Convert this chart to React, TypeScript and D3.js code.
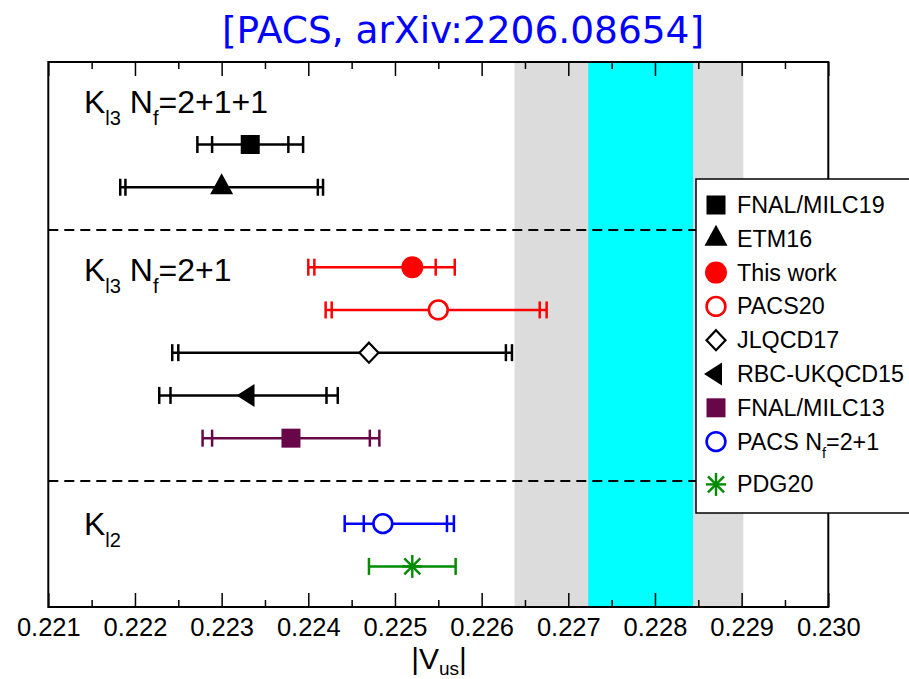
import React, { useRef, useEffect } from "react";
import * as d3 from "d3";

const W = 909;
const H = 679;

// results for |Vus|, listed top to bottom
const labels = ["FNAL/MILC19", "ETM16", "This work", "PACS20", "JLQCD17", "RBC-UKQCD15", "FNAL/MILC13", "PACS Nf=2+1", "PDG20"];
const centers = [0.22333, 0.223, 0.2252, 0.2255, 0.2247, 0.22331, 0.2238, 0.22486, 0.2252];
const statLo = [0.00044, 0.00111, 0.00113, 0.00123, 0.0022, 0.0009, 0.00091, 0.00022, 0];
const statHi = [0.00044, 0.00111, 0.00027, 0.00117, 0.00158, 0.0009, 0.00091, 0.00074, 0];
const totLo = [0.00061, 0.00117, 0.0012, 0.0013, 0.00227, 0.00103, 0.00102, 0.00044, 0.0005];
const totHi = [0.00061, 0.00117, 0.00049, 0.00125, 0.00165, 0.00103, 0.00102, 0.00082, 0.0005];
const rows = [10.87, 9.87, 8, 7, 6, 5, 4, 2, 1];
const symbols = ["square", "triUp", "circle", "circleOpen", "diamond", "triLeft", "square", "circleOpen", "star"];
const colors = ["#000000", "#000000", "#ff0000", "#ff0000", "#000000", "#000000", "#670748", "#0000ff", "#008b00"];

// bands
const grayBand = [0.22638, 0.22902];
const cyanBand = [0.22723, 0.22844];
const dividers = [8.87, 3];

// section labels
const sectionRows = [11.61, 7.68, 1.73];
const sectionSub = ["l3", "l3", "l2"];
const sectionNf = ["2+1+1", "2+1", ""];

const tickLabels = ["0.221", "0.222", "0.223", "0.224", "0.225", "0.226", "0.227", "0.228", "0.229", "0.230"];
const majorTicks = tickLabels.map(Number);
const minorTicks = majorTicks.slice(1).map((t, i) => (t + majorTicks[i]) / 2);

const FONT = "'Liberation Sans', Arial, Helvetica, sans-serif";

const x = d3.scaleLinear().domain([0.221, 0.23]).range([48.3, 828.3]);
const y = d3.scaleLinear().domain([0.05, 12.8]).range([607, 62]);

const Marker = ({ type, cx, cy, color }) => {
  switch (type) {
    case "square":
      return <rect x={cx - 9.5} y={cy - 9.5} width={19} height={19} fill={color} />;
    case "triUp":
      return <path d={`M${cx},${cy - 14}L${cx + 11.5},${cy + 7}L${cx - 11.5},${cy + 7}Z`} fill={color} />;
    case "triLeft":
      return <path d={`M${cx - 12},${cy}L${cx + 6},${cy - 11.5}L${cx + 6},${cy + 11.5}Z`} fill={color} />;
    case "circle":
      return <circle cx={cx} cy={cy} r={11} fill={color} />;
    case "circleOpen":
      return <circle cx={cx} cy={cy} r={9.4} fill="white" stroke={color} strokeWidth={2.6} />;
    case "diamond":
      return (
        <path d={`M${cx},${cy - 10}L${cx + 9.5},${cy}L${cx},${cy + 10}L${cx - 9.5},${cy}Z`}
          fill="white" stroke={color} strokeWidth={2.2} />
      );
    case "star":
      return (
        <g stroke={color} strokeWidth={2.4}>
          <line x1={cx} x2={cx} y1={cy - 11.5} y2={cy + 11.5} />
          <line x1={cx - 10} x2={cx + 10} y1={cy} y2={cy} />
          <line x1={cx - 8} x2={cx + 8} y1={cy - 8} y2={cy + 8} />
          <line x1={cx - 8} x2={cx + 8} y1={cy + 8} y2={cy - 8} />
        </g>
      );
    default:
      return null;
  }
};

const Label = ({ text, size }) => {
  const parts = text.split("Nf");
  if (parts.length < 2) return <>{text}</>;
  const sub = size * 0.62;
  const dy = size * 0.38;
  return (
    <>
      {parts[0]}N
      <tspan dy={dy} fontSize={sub}>f</tspan>
      <tspan dy={-dy}>{parts[1]}</tspan>
    </>
  );
};

const App = () => {
  const axisRef = useRef(null);

  useEffect(() => {
    const g = d3.select(axisRef.current);
    g.selectAll("*").remove();
    const style = (sel) => {
      sel.select(".domain").remove();
      sel.selectAll("line").attr("stroke", "#000").attr("stroke-width", 1.5);
      sel.selectAll("text").attr("font-family", FONT).attr("font-size", 25.5).attr("fill", "#000");
    };
    g.append("g")
      .attr("transform", `translate(0,${y.range()[0]})`)
      .call(d3.axisBottom(x).tickValues(majorTicks).tickSize(-14).tickSizeOuter(0).tickPadding(11)
        .tickFormat((d, i) => tickLabels[i]))
      .call(style);
    g.append("g")
      .attr("transform", `translate(0,${y.range()[0]})`)
      .call(d3.axisBottom(x).tickValues(minorTicks).tickSize(-7).tickSizeOuter(0).tickFormat(() => ""))
      .call(style);
    g.append("g")
      .attr("transform", `translate(0,${y.range()[1]})`)
      .call(d3.axisTop(x).tickValues(majorTicks).tickSize(-14).tickSizeOuter(0).tickFormat(() => ""))
      .call(style);
    g.append("g")
      .attr("transform", `translate(0,${y.range()[1]})`)
      .call(d3.axisTop(x).tickValues(minorTicks).tickSize(-7).tickSizeOuter(0).tickFormat(() => ""))
      .call(style);
  }, []);

  const [x0, x1] = x.range();
  const [yb, yt] = y.range();
  const legendTop = 179;

  return (
    <svg width={W} height={H} style={{ position: "absolute", left: 0, top: 0, display: "block", background: "white" }}
      fontFamily={FONT}>
      <text x={463} y={43} textAnchor="middle" fill="#0000ff" fontSize={37.5}
        fontFamily="'DejaVu Sans', sans-serif">[PACS, arXiv:2206.08654]</text>

      <rect x={x(grayBand[0])} y={yt} width={x(grayBand[1]) - x(grayBand[0])} height={yb - yt} fill="#dcdcdc" />
      <rect x={x(cyanBand[0])} y={yt} width={x(cyanBand[1]) - x(cyanBand[0])} height={yb - yt} fill="#00ffff" />

      {dividers.map((d, i) => (
        <line key={i} x1={x0} x2={x1} y1={y(d)} y2={y(d)} stroke="#000" strokeWidth={2} strokeDasharray="10,6" />
      ))}

      <g ref={axisRef} />
      <rect x={x0} y={yt} width={x1 - x0} height={yb - yt} fill="none" stroke="#000" strokeWidth={2} />

      {sectionRows.map((r, i) => (
        <text key={i} x={84} y={y(r)} fontSize={32}>
          K<tspan dy={12} fontSize={20}>{sectionSub[i]}</tspan>
          {sectionNf[i] ? (
            <>
              <tspan dy={-12}> N</tspan>
              <tspan dy={12} fontSize={20}>f</tspan>
              <tspan dy={-12}>={sectionNf[i]}</tspan>
            </>
          ) : null}
        </text>
      ))}

      {centers.map((c, i) => {
        const cy = y(rows[i]);
        const caps = [c - totLo[i], c + totHi[i]];
        if (statLo[i] > 0) caps.push(c - statLo[i], c + statHi[i]);
        return (
          <g key={i}>
            <line x1={x(c - totLo[i])} x2={x(c + totHi[i])} y1={cy} y2={cy} stroke={colors[i]} strokeWidth={2.5} />
            {caps.map((v, j) => (
              <line key={j} x1={x(v)} x2={x(v)} y1={cy - 8.5} y2={cy + 8.5} stroke={colors[i]} strokeWidth={2.5} />
            ))}
            <Marker type={symbols[i]} cx={x(c)} cy={cy} color={colors[i]} />
          </g>
        );
      })}

      <rect x={696} y={legendTop} width={230} height={334} fill="white" stroke="#000" strokeWidth={1.5} />
      {labels.map((l, i) => {
        const cy = legendTop + 26 + i * 33.8 + (i === labels.length - 1 ? 9 : 0);
        return (
          <g key={i}>
            <Marker type={symbols[i]} cx={716} cy={cy} color={colors[i]} />
            <text x={737} y={cy + 8} fontSize={23.3}>
              <Label text={l} size={23.3} />
            </text>
          </g>
        );
      })}

      <text x={439} y={669} textAnchor="middle" fontSize={30}>
        |V<tspan dy={6} fontSize={19}>us</tspan><tspan dy={-6}>|</tspan>
      </text>
    </svg>
  );
};

export default App;
